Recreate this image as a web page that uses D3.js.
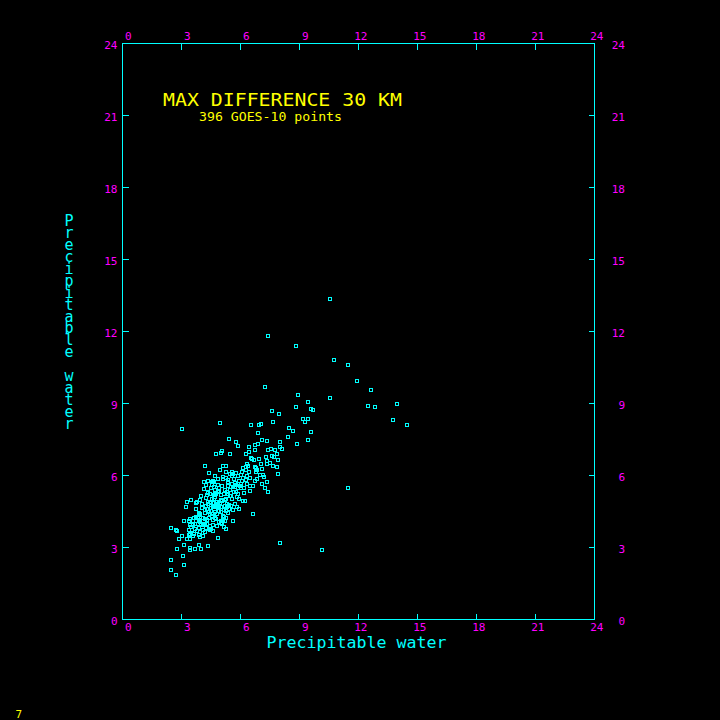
<!DOCTYPE html>
<html>
<head>
<meta charset="utf-8">
<script src="https://cdn.jsdelivr.net/npm/d3@7"></script>
<style>
  body { margin: 0; background: #000; }
  svg { display: block; }
  text { font-family: "DejaVu Sans Mono", monospace; }
</style>
</head>
<body>
<div id="chart"></div>
<script>
// tick values shared by all four sides
var tickValues = [0, 3, 6, 9, 12, 15, 18, 21, 24];

var titleText = "MAX DIFFERENCE 30 KM";
var subtitleText = "396 GOES-10 points";
var axisTitle = "Precipitable water";
var frameNumber = "7";

// x: precipitable water (sensor 1), y: precipitable water (sensor 2)
var xValues = [
  7.40, 8.82, 7.25, 8.93, 8.82, 7.61, 7.96, 4.96, 3.03, 6.54, 7.03, 6.95, 7.66, 8.47, 8.67, 6.89, 8.42, 5.42, 7.10, 7.35,
  10.55, 10.76, 11.47, 11.93, 12.64, 10.55, 9.44, 9.59, 9.69, 9.18, 9.44, 9.28, 12.49, 12.84, 13.96, 13.76, 14.47, 9.59, 9.44, 8.88,
  8.00, 8.02, 8.10, 11.47, 8.01, 10.15,
  5.78, 5.88, 6.44, 6.74, 6.90, 5.06, 5.01, 4.76, 5.47, 6.44, 6.74, 7.40, 7.55, 7.76, 7.86, 7.61, 7.71, 7.30, 6.28, 6.54,
  6.60, 6.95, 6.69, 7.91, 7.35, 7.35, 6.34, 6.28, 7.05, 7.66, 7.86, 6.74, 6.80, 4.20, 5.12, 4.40, 5.27, 5.57, 5.62, 6.08,
  6.13, 6.28, 5.78, 6.44, 6.03, 5.47, 5.27, 5.12, 5.12, 6.97, 7.15, 7.91, 6.34, 5.88, 4.86, 5.37, 5.67, 5.72, 5.93, 6.08,
  6.28, 6.84, 6.74, 7.35, 7.10, 6.64, 6.34, 6.03, 5.78, 4.61, 4.66, 4.35, 4.25, 4.56, 4.86, 5.06, 5.37, 5.57, 5.62, 6.18,
  6.03, 7.25, 7.40, 6.49, 4.15, 4.35, 4.45, 4.71, 4.91, 5.22, 5.32, 5.67, 5.78, 5.88, 4.00, 4.66, 4.76, 5.01, 5.52, 5.57,
  5.83, 5.93, 6.13, 6.23, 3.95, 3.74, 3.79, 3.49, 3.28, 3.23, 4.05, 4.35, 4.51, 4.66, 4.76, 4.86, 5.06, 5.27, 5.42, 5.83,
  5.93, 5.62, 5.42, 5.22, 5.17, 5.01, 4.71, 4.81, 4.51, 4.61, 4.25, 4.30, 4.05, 3.74, 3.90, 3.90, 4.20, 4.40, 4.51, 4.61,
  4.71, 4.91, 5.01, 5.12, 5.17, 5.27, 6.64, 5.62, 5.12, 5.22, 4.91, 5.01, 4.71, 4.61, 4.40, 4.30, 4.10, 4.20, 3.84, 3.90,
  3.13, 3.44, 3.39, 3.59, 3.69, 4.00, 4.10, 4.30, 4.45, 4.61, 4.81, 5.01, 5.17, 5.27, 3.44, 3.49, 3.69, 3.90, 3.79, 4.10,
  4.20, 4.40, 4.51, 3.39, 3.64, 3.59, 3.90, 3.95, 3.39, 3.44, 3.28, 4.86, 2.47, 2.73, 2.78, 3.03, 2.88, 3.13, 2.78, 3.44,
  3.44, 3.69, 3.90, 4.00, 4.35, 3.08, 2.47, 3.13, 2.47, 2.73,
  4.56, 4.35, 4.69, 5.37, 5.71, 5.96, 5.20, 4.78, 4.35, 4.61, 4.95, 5.29, 4.78, 4.18, 3.59, 4.44, 3.42, 3.93, 4.44, 4.69,
  5.03, 5.29, 4.44, 4.86, 5.54, 4.90, 5.46, 4.24, 4.54, 3.93, 3.73, 4.08, 5.35, 5.71, 6.17, 6.47, 6.78, 7.10, 7.50, 5.26,
  4.69,
  4.14, 4.49, 4.84, 5.15, 5.46, 4.29, 4.54, 4.90, 5.25, 5.51, 4.18, 4.44, 4.74, 5.05, 3.93, 3.63, 3.83, 4.24, 4.59, 3.52,
  4.64, 5.35, 5.86, 6.12, 6.48, 6.84, 7.19, 6.38, 5.56, 4.95
];
var yValues = [
  11.82, 11.40, 9.70, 9.36, 8.86, 8.70, 8.57, 8.20, 7.95, 8.11, 8.15, 8.10, 8.24, 7.99, 7.86, 7.78, 7.61, 7.53, 7.49, 7.45,
  13.36, 10.82, 10.61, 9.95, 9.57, 9.24, 9.07, 8.78, 8.74, 8.36, 8.36, 8.24, 8.90, 8.86, 8.99, 8.32, 8.11, 7.82, 7.49, 7.32,
  7.40, 7.18, 7.12, 5.49, 3.20, 2.90,
  7.40, 7.24, 7.20, 7.28, 7.32, 7.03, 6.95, 6.90, 6.90, 6.99, 7.07, 7.07, 7.11, 7.07, 6.90, 6.82, 6.78, 6.78, 6.90, 6.74,
  6.68, 6.70, 6.65, 6.65, 6.61, 6.49, 6.49, 6.35, 6.49, 6.40, 6.36, 6.36, 6.30, 6.40, 6.40, 6.11, 6.15, 6.15, 6.07, 6.15,
  6.32, 6.24, 6.11, 6.15, 6.01, 6.07, 5.90, 5.95, 5.86, 6.03, 6.03, 6.07, 5.99, 5.99, 5.86, 5.82, 5.86, 5.70, 5.78, 5.78,
  5.82, 5.86, 5.78, 5.74, 5.65, 5.57, 5.65, 5.65, 5.61, 5.78, 5.74, 5.78, 5.61, 5.61, 5.61, 5.57, 5.57, 5.65, 5.51, 5.49,
  5.49, 5.49, 5.32, 5.36, 5.45, 5.28, 5.24, 5.40, 5.36, 5.40, 5.32, 5.32, 5.32, 5.24, 5.15, 5.20, 5.24, 5.20, 5.15, 5.03,
  5.11, 5.03, 4.95, 4.95, 4.99, 4.86, 4.90, 4.99, 4.90, 4.70, 4.82, 4.90, 4.86, 4.99, 4.90, 4.82, 4.95, 5.03, 4.78, 4.70,
  4.61, 4.57, 4.61, 4.74, 4.57, 4.70, 4.74, 4.70, 4.65, 4.70, 4.74, 4.61, 4.65, 4.61, 4.45, 4.36, 4.45, 4.49, 4.53, 4.40,
  4.49, 4.53, 4.49, 4.32, 4.28, 4.24, 4.40, 4.11, 4.15, 4.11, 4.07, 4.11, 4.24, 4.15, 4.24, 4.15, 4.24, 4.20, 4.24, 4.15,
  4.11, 4.20, 4.11, 4.11, 3.99, 3.99, 3.95, 3.99, 3.90, 3.95, 3.90, 4.04, 3.86, 3.78, 3.95, 3.86, 3.78, 3.82, 3.70, 3.74,
  3.65, 3.78, 3.78, 3.74, 3.57, 3.49, 3.53, 3.45, 3.53, 3.36, 3.36, 3.40, 3.82, 3.74, 3.70, 3.49, 3.36, 3.11, 2.95, 2.99,
  2.90, 2.95, 3.11, 2.95, 3.07, 2.65, 2.49, 2.28, 2.07, 1.86,
  5.72, 5.30, 5.25, 5.24, 5.51, 5.58, 4.96, 4.89, 4.82, 4.68, 4.82, 4.68, 4.40, 3.99, 3.92, 3.71, 3.57, 3.64, 5.24, 5.10,
  4.96, 4.82, 4.89, 4.54, 5.51, 5.46, 5.13, 5.08, 4.33, 4.08, 4.29, 3.50, 4.42, 4.83, 5.29, 5.88, 6.13, 6.29, 6.54, 6.38,
  6.00,
  5.71, 5.50, 5.33, 5.21, 5.38, 5.17, 5.04, 4.75, 4.54, 4.71, 4.58, 4.38, 4.17, 3.96, 4.38, 4.21, 3.96, 3.83, 3.67, 3.71,
  5.54, 5.71, 5.46, 5.88, 5.58, 6.21, 5.92, 6.38, 5.96, 6.21
];

var points = xValues.map(function (v, i) { return { x: v, y: yValues[i] }; });

var width = 720, height = 720;
var cyan = "#00ffff", magenta = "#ff00ff", yellow = "#ffff00";

var x = d3.scaleLinear().domain([0, 24]).range([122.5, 594.5]);
var y = d3.scaleLinear().domain([0, 24]).range([619.5, 43.5]);

var svg = d3.select("#chart").append("svg")
  .attr("width", width)
  .attr("height", height)
  .style("background", "#000");

// frame
svg.append("rect")
  .attr("x", x(0)).attr("y", y(24))
  .attr("width", x(24) - x(0)).attr("height", y(0) - y(24))
  .attr("fill", "none").attr("stroke", cyan).attr("stroke-width", 1)
  .attr("shape-rendering", "crispEdges");

var tickLen = 6;
var inner = tickValues.slice(1, -1);
var ticks = svg.append("g").attr("stroke", cyan).attr("shape-rendering", "crispEdges");

// ticks point inward on every side
ticks.selectAll(".tb").data(inner).enter().append("line")
  .attr("x1", d => Math.floor(x(d)) + 0.5).attr("x2", d => Math.floor(x(d)) + 0.5)
  .attr("y1", y(0)).attr("y2", y(0) - tickLen);
ticks.selectAll(".tt").data(inner).enter().append("line")
  .attr("x1", d => Math.floor(x(d)) + 0.5).attr("x2", d => Math.floor(x(d)) + 0.5)
  .attr("y1", y(24)).attr("y2", y(24) + tickLen);
ticks.selectAll(".tl").data(inner).enter().append("line")
  .attr("y1", d => y(d)).attr("y2", d => y(d))
  .attr("x1", x(0)).attr("x2", x(0) + tickLen);
ticks.selectAll(".tr").data(inner).enter().append("line")
  .attr("y1", d => y(d)).attr("y2", d => y(d))
  .attr("x1", x(24)).attr("x2", x(24) - tickLen);

// tick labels on all four sides
var labels = svg.append("g").attr("fill", magenta).attr("font-size", 11);

labels.selectAll(".lb").data(tickValues).enter().append("text")
  .attr("x", d => x(d) + 9).attr("y", 631)
  .attr("text-anchor", "end").text(d => d);
labels.selectAll(".lt").data(tickValues).enter().append("text")
  .attr("x", d => x(d) + 9).attr("y", 39.5)
  .attr("text-anchor", "end").text(d => d);
labels.selectAll(".ll").data(tickValues).enter().append("text")
  .attr("x", 117.5).attr("y", d => y(d) + 5)
  .attr("text-anchor", "end").text(d => d);
labels.selectAll(".lr").data(tickValues).enter().append("text")
  .attr("x", 625).attr("y", d => y(d) + 5)
  .attr("text-anchor", "end").text(d => d);

// titles
svg.append("text")
  .attr("x", 163).attr("y", 105.5)
  .attr("fill", yellow).attr("font-size", 18)
  .attr("textLength", 239).attr("lengthAdjust", "spacingAndGlyphs")
  .text(titleText);

svg.append("text")
  .attr("x", 199).attr("y", 121)
  .attr("fill", yellow).attr("font-size", 12.5)
  .attr("textLength", 143).attr("lengthAdjust", "spacingAndGlyphs")
  .text(subtitleText);

svg.append("text")
  .attr("x", 266.5).attr("y", 648)
  .attr("fill", cyan).attr("font-size", 15)
  .attr("textLength", 180).attr("lengthAdjust", "spacingAndGlyphs")
  .text(axisTitle);

// vertical stacked y title: upright letters in vertical writing mode
svg.append("text")
  .attr("x", 69).attr("y", 212)
  .attr("fill", cyan).attr("font-size", 15)
  .attr("textLength", 221).attr("lengthAdjust", "spacing")
  .style("writing-mode", "vertical-rl")
  .style("text-orientation", "upright")
  .text(axisTitle);

svg.append("text")
  .attr("x", 15.5).attr("y", 718)
  .attr("fill", yellow).attr("font-size", 11)
  .text(frameNumber);

// points: small open squares
svg.append("g")
  .attr("fill", "none").attr("stroke", cyan).attr("stroke-width", 1)
  .attr("shape-rendering", "crispEdges")
  .selectAll("rect").data(points).enter().append("rect")
  .attr("x", d => Math.round(x(d.x)) - 1.5)
  .attr("y", d => Math.round(y(d.y)) - 1.5)
  .attr("width", 3).attr("height", 3);
</script>
</body>
</html>
